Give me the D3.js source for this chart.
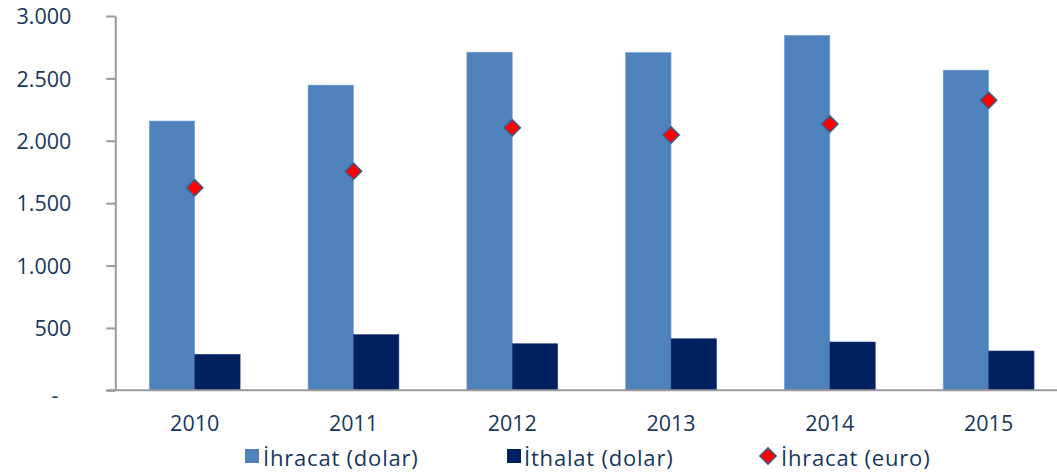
<!DOCTYPE html>
<html>
<head>
<meta charset="utf-8">
<script src="https://cdn.jsdelivr.net/npm/d3@7"></script>
<style>
  html, body { margin: 0; padding: 0; background: #fff; }
  svg { display: block; }
  text { font-family: "Open Sans", Lato, sans-serif; fill: #17375E; }
</style>
</head>
<body>
<svg id="chart" width="1057" height="474"></svg>
<script>
// Yearly figures (million)
const years = ["2010", "2011", "2012", "2013", "2014", "2015"];
const ihracatDolar = [2158, 2446, 2710, 2708, 2845, 2566];
const ithalatDolar = [288, 446, 373, 413, 387, 315];
const ihracatEuro = [1623, 1755, 2104, 2046, 2134, 2324];
const yTicks = [0, 500, 1000, 1500, 2000, 2500, 3000];
const legendLabels = ["İhracat (dolar)", "İthalat (dolar)", "İhracat (euro)"];

const colors = { exp: "#4F81BD", imp: "#002060", euro: "#FF0000", euroEdge: "#3B5E8C" };
const fmt = v => v === 0 ? "-" : d3.format(",")(v).replace(/,/g, ".");
const fontSize = 21.5;

const svg = d3.select("#chart");
const plotLeft = 115.3, plotRight = 1068, plotTop = 16, plotBottom = 390.3;

const x0 = d3.scaleBand().domain(years).range([plotLeft, plotRight])
  .paddingInner(0.428).paddingOuter(0.214);
const x1 = d3.scaleBand().domain(["exp", "imp"]).range([0, x0.bandwidth()]);
const y = d3.scaleLinear().domain([0, 3000]).range([plotBottom, plotTop]);

const rows = years.map((yr, i) => ({ yr, exp: ihracatDolar[i], imp: ithalatDolar[i], euro: ihracatEuro[i] }));

// bars
const g = svg.append("g");
rows.forEach(r => {
  ["exp", "imp"].forEach(k => {
    g.append("rect")
      .attr("x", x0(r.yr) + x1(k))
      .attr("y", y(r[k]))
      .attr("width", x1.bandwidth())
      .attr("height", y(0) - y(r[k]))
      .attr("fill", colors[k])
      .attr("stroke", k === "exp" ? "#7FA3D1" : "#1A3A78")
      .attr("stroke-width", 0.6);
  });
});

// y axis
const yAxis = svg.append("g")
  .attr("transform", `translate(${plotLeft},0)`)
  .call(d3.axisLeft(y).tickValues(yTicks).tickSize(9).tickSizeOuter(0).tickPadding(35).tickFormat(fmt));
yAxis.select(".domain").attr("stroke", "#9A9A9A").attr("stroke-width", 2);
yAxis.selectAll(".tick line").attr("stroke", "#9A9A9A").attr("stroke-width", 2);
yAxis.selectAll(".tick text").attr("font-size", fontSize).attr("dy", "0.36em")
  .attr("fill", "#17375E")
  .filter(d => d === 0).attr("dx", -13).attr("dy", "0.55em");

// x axis
const xAxis = svg.append("g")
  .attr("transform", `translate(0,${plotBottom})`)
  .call(d3.axisBottom(x0).tickSize(0).tickSizeOuter(0).tickPadding(25));
xAxis.select(".domain").attr("stroke", "#9A9A9A").attr("stroke-width", 2)
  .attr("d", `M${plotLeft - 9},0H${plotRight}`);
xAxis.selectAll(".tick text").attr("font-size", fontSize).attr("fill", "#17375E");

// euro markers
const diamond = (sel, cx, cy) => sel.append("rect")
  .attr("x", -5.8).attr("y", -5.8).attr("width", 11.6).attr("height", 11.6)
  .attr("fill", colors.euro).attr("stroke", colors.euroEdge).attr("stroke-width", 1.5)
  .attr("transform", `translate(${cx},${cy}) rotate(45)`);

rows.forEach(r => diamond(svg, x0(r.yr) + x0.bandwidth() / 2, y(r.euro)));

// legend
const lg = svg.append("g").attr("letter-spacing", 0.8);
lg.append("rect").attr("x", 245).attr("y", 449).attr("width", 14).attr("height", 14).attr("fill", colors.exp);
lg.append("text").attr("x", 263).attr("y", 466).attr("font-size", fontSize + 0.5).text(legendLabels[0]);
lg.append("rect").attr("x", 507).attr("y", 449).attr("width", 14).attr("height", 14).attr("fill", colors.imp);
lg.append("text").attr("x", 524).attr("y", 466).attr("font-size", fontSize + 0.5).text(legendLabels[1]);
diamond(lg, 768, 456);
lg.append("text").attr("x", 781).attr("y", 466).attr("font-size", fontSize + 0.5).text(legendLabels[2]);
</script>
</body>
</html>
